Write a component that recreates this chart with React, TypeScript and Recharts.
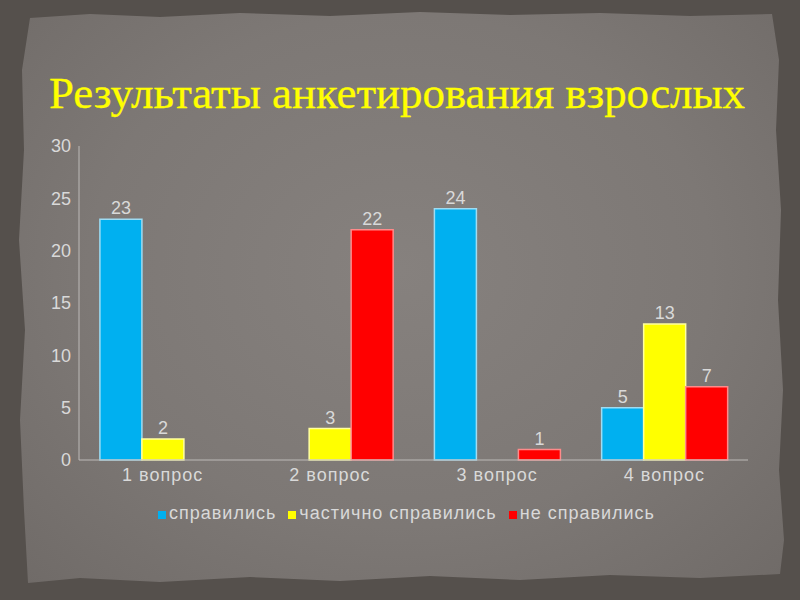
import React from 'react';
import { BarChart, Bar, XAxis, YAxis, LabelList, Legend } from 'recharts';

const categories = ['1 вопрос', '2 вопрос', '3 вопрос', '4 вопрос'];
const coped = [23, 0, 24, 5];
const partly = [2, 3, 0, 13];
const failed = [0, 22, 1, 7];
const yTicks = [0, 5, 10, 15, 20, 25, 30];
const seriesNames = ['справились', 'частично справились', 'не справились'];
const title = 'Результаты анкетирования взрослых';

const colors = ['#00b0f0', '#ffff00', '#ff0000'];
const strokes = ['#9edcf3', '#ffffa0', '#ff8a8a'];

const data = categories.map((c, i) => ({
  name: c,
  coped: coped[i],
  partly: partly[i],
  failed: failed[i],
}));

const keys = ['coped', 'partly', 'failed'];
const textColor = '#d9d9d9';
const font = '"Liberation Sans", Arial, sans-serif';

const panelClip =
  'polygon(30px 18px, 90px 14px, 160px 17px, 240px 13px, 330px 16px, 420px 12px, 510px 15px, 600px 13px, 690px 16px, 772px 14px, 779px 60px, 776px 130px, 781px 210px, 778px 300px, 783px 390px, 779px 470px, 784px 540px, 780px 574px, 700px 578px, 610px 575px, 520px 580px, 430px 576px, 340px 581px, 250px 577px, 160px 582px, 80px 578px, 28px 583px, 24px 510px, 20px 420px, 25px 330px, 19px 240px, 24px 150px, 22px 70px)';

const renderLegend = () => (
  <div
    style={{
      display: 'flex',
      justifyContent: 'center',
      alignItems: 'baseline',
      fontFamily: font,
      fontSize: 18,
      letterSpacing: 1,
      color: textColor,
      paddingLeft: 13,
    }}
  >
    {seriesNames.map((n, i) => (
      <span
        key={n}
        style={{
          marginRight: i < seriesNames.length - 1 ? 12 : 0,
          display: 'inline-flex',
          alignItems: 'baseline',
        }}
      >
        <span
          style={{
            display: 'inline-block',
            width: 8,
            height: 8,
            background: colors[i],
            marginRight: 3,
          }}
        />
        {n}
      </span>
    ))}
  </div>
);

export default function App() {
  return (
    <div
      style={{
        position: 'absolute',
        left: 0,
        top: 0,
        width: 800,
        height: 600,
        background: '#55504c',
        overflow: 'hidden',
      }}
    >
      <div
        style={{
          position: 'absolute',
          left: 0,
          top: 0,
          width: 800,
          height: 600,
          background:
            'radial-gradient(ellipse at 50% 45%, #86817e 0%, #7d7875 55%, #6e6966 100%)',
          clipPath: panelClip,
        }}
      />
      <svg width={800} height={140} style={{ position: 'absolute', left: 0, top: 0 }}>
        <text
          x={49}
          y={108}
          fill="#ffff00"
          stroke="#ffff00"
          strokeWidth={0.3}
          fontFamily='"Liberation Serif", serif'
          fontSize={44}
          textLength={696}
          lengthAdjust="spacingAndGlyphs"
        >
          {title}
        </text>
      </svg>
      <div style={{ position: 'absolute', left: 0, top: 0 }}>
        <BarChart
          width={800}
          height={600}
          data={data}
          margin={{ top: 146, right: 52, left: 39, bottom: 84 }}
          barCategoryGap="12.5%"
          barGap={0}
        >
          <XAxis
            dataKey="name"
            height={30}
            axisLine={{ stroke: '#bdbab8' }}
            tickLine={false}
            tick={{ fill: textColor, fontSize: 18, fontFamily: font, letterSpacing: 1 }}
            interval={0}
          />
          <YAxis
            width={40}
            domain={[0, 30]}
            ticks={yTicks}
            axisLine={{ stroke: '#bdbab8' }}
            tickLine={false}
            tick={{ fill: textColor, fontSize: 18, fontFamily: font }}
          />
          <Legend
            verticalAlign="bottom"
            content={renderLegend}
            wrapperStyle={{ top: 503, bottom: 'auto', left: 0, width: 800, height: 26 }}
          />
          {keys.map((k, i) => (
            <Bar
              key={k}
              dataKey={k}
              name={seriesNames[i]}
              fill={colors[i]}
              stroke={strokes[i]}
              strokeWidth={1.5}
              isAnimationActive={false}
            >
              <LabelList
                dataKey={k}
                position="top"
                offset={5}
                fill={textColor}
                fontSize={18}
                fontFamily={font}
                formatter={(v: any) => (v === 0 ? '' : v)}
              />
            </Bar>
          ))}
        </BarChart>
      </div>
    </div>
  );
}
